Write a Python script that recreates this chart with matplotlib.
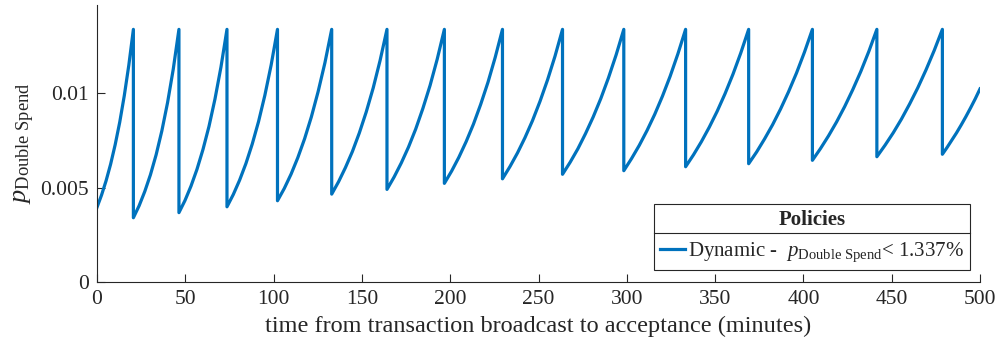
import matplotlib
matplotlib.use("Agg")
import matplotlib.pyplot as plt
from matplotlib.lines import Line2D

# time (minutes) and p_DoubleSpend; repeated x = vertical drop
t = [0, 2.575, 5.15, 7.725, 10.3, 12.875, 15.45, 18.025, 20.6,
     20.6, 23.825, 27.05, 30.275, 33.5, 36.725, 39.95, 43.175, 46.4,
     46.4, 49.8, 53.2, 56.6, 60.0, 63.4, 66.8, 70.2, 73.6,
     73.6, 77.175, 80.75, 84.325, 87.9, 91.475, 95.05, 98.625, 102.2,
     102.2, 106.04, 109.9, 113.71, 117.55, 121.39, 125.2, 129.06, 132.9,
     132.9, 136.81, 140.7, 144.64, 148.55, 152.46, 156.4, 160.29, 164.2,
     164.2, 168.26, 172.3, 176.39, 180.45, 184.51, 188.6, 192.64, 196.7,
     196.7, 200.81, 204.9, 209.04, 213.15, 217.26, 221.4, 225.49, 229.6,
     229.6, 233.85, 238.1, 242.35, 246.6, 250.85, 255.1, 259.35, 263.6,
     263.6, 267.94, 272.3, 276.61, 280.95, 285.29, 289.6, 293.96, 298.3,
     298.3, 302.675, 307.05, 311.425, 315.8, 320.175, 324.55, 328.925, 333.3,
     333.3, 337.76, 342.2, 346.69, 351.15, 355.61, 360.1, 364.54, 369.0,
     369.0, 373.51, 378.0, 382.54, 387.05, 391.56, 396.1, 400.59, 405.1,
     405.1, 409.66, 414.2, 418.79, 423.35, 427.91, 432.5, 437.04, 441.6,
     441.6, 446.24, 450.9, 455.51, 460.15, 464.79, 469.4, 474.06, 478.7,
     478.7, 481.36, 484.0, 486.69, 489.35, 492.01, 494.7, 497.34, 500]
p_ds = [0.00395, 0.00460, 0.00536, 0.00624, 0.00727, 0.00846, 0.00986, 0.01148, 0.01337,
        0.00340, 0.00403, 0.00479, 0.00568, 0.00674, 0.00800, 0.00949, 0.01126, 0.01337,
        0.00367, 0.00431, 0.00507, 0.00596, 0.00701, 0.00823, 0.00968, 0.01138, 0.01337,
        0.00398, 0.00463, 0.00539, 0.00627, 0.00730, 0.00849, 0.00988, 0.01149, 0.01337,
        0.00430, 0.00495, 0.00571, 0.00658, 0.00758, 0.00874, 0.01007, 0.01160, 0.01337,
        0.00465, 0.00531, 0.00606, 0.00691, 0.00789, 0.00900, 0.01027, 0.01172, 0.01337,
        0.00490, 0.00556, 0.00630, 0.00714, 0.00809, 0.00918, 0.01040, 0.01179, 0.01337,
        0.00522, 0.00587, 0.00660, 0.00743, 0.00835, 0.00940, 0.01057, 0.01189, 0.01337,
        0.00546, 0.00611, 0.00683, 0.00764, 0.00854, 0.00956, 0.01069, 0.01195, 0.01337,
        0.00570, 0.00634, 0.00705, 0.00785, 0.00873, 0.00971, 0.01080, 0.01202, 0.01337,
        0.00589, 0.00653, 0.00723, 0.00801, 0.00887, 0.00983, 0.01089, 0.01207, 0.01337,
        0.00610, 0.00673, 0.00742, 0.00819, 0.00903, 0.00996, 0.01099, 0.01212, 0.01337,
        0.00626, 0.00688, 0.00757, 0.00832, 0.00915, 0.01006, 0.01106, 0.01216, 0.01337,
        0.00644, 0.00706, 0.00773, 0.00847, 0.00928, 0.01017, 0.01114, 0.01220, 0.01337,
        0.00663, 0.00724, 0.00790, 0.00862, 0.00942, 0.01028, 0.01122, 0.01225, 0.01337,
        0.00676, 0.00712, 0.00750, 0.00789, 0.00831, 0.00875, 0.00922, 0.00970, 0.01022]

xticks = [0, 50, 100, 150, 200, 250, 300, 350, 400, 450, 500]
yticks = [0, 0.005, 0.01]
ytick_labels = ["0", "0.005", "0.01"]

plt.rcParams["font.family"] = ["Liberation Serif", "DejaVu Serif"]
plt.rcParams["mathtext.fontset"] = "custom"
plt.rcParams["mathtext.rm"] = "Liberation Serif"
plt.rcParams["mathtext.it"] = "Liberation Serif:italic"
plt.rcParams["font.size"] = 15.5

txt = "#262626"
blue = "#0072BD"

fig = plt.figure(figsize=(10, 3.45), dpi=100)
ax = fig.add_axes([0.097, 0.1826, 0.883, 0.803])

ax.plot(t, p_ds, color=blue, linewidth=2.3, solid_joinstyle="round",
        label=r"Dynamic -  $p_{\mathrm{Double\ Spend}}$< 1.337%")

ax.set_xlim(0, 500)
ax.set_ylim(0, 0.01466)
ax.set_xticks(xticks)
ax.set_yticks(yticks)
ax.set_yticklabels(ytick_labels)
ax.tick_params(direction="in", length=6, width=0.8, colors=txt, labelcolor=txt, pad=6)
for s in ["top", "right"]:
    ax.spines[s].set_visible(False)
for s in ["left", "bottom"]:
    ax.spines[s].set_color(txt)
    ax.spines[s].set_linewidth(0.8)

ax.set_xlabel("time from transaction broadcast to acceptance (minutes)", color=txt,
              fontsize=17.5, labelpad=5)
ax.set_ylabel(r"$p_{\mathrm{Double\ Spend}}$", color=txt, fontsize=19, labelpad=2)

leg = ax.legend(loc="lower right", bbox_to_anchor=(0.989, 0.043), title="Policies",
                fancybox=False, framealpha=1, edgecolor=txt, handlelength=1.2,
                handletextpad=0.15, borderpad=0.3, borderaxespad=0, fontsize=15,
                title_fontsize=15)
leg.get_title().set_fontweight("bold")
leg.get_title().set_color(txt)
leg.get_frame().set_linewidth(0.8)
for tx in leg.get_texts():
    tx.set_color(txt)

# separator line under the legend title
fig.canvas.draw()
inv = fig.transFigure.inverted()
lb = leg.get_window_extent()
tb = leg.get_title().get_window_extent()
(x0, y0), (x1, y1) = inv.transform([[lb.x0, lb.y0], [lb.x1, lb.y1]])
ysep = inv.transform([[0, tb.y0 - 3]])[0][1]
fig.add_artist(Line2D([x0, x1], [ysep, ysep], transform=fig.transFigure,
                      color=txt, linewidth=0.8))

fig.savefig("out.png", dpi=100)
